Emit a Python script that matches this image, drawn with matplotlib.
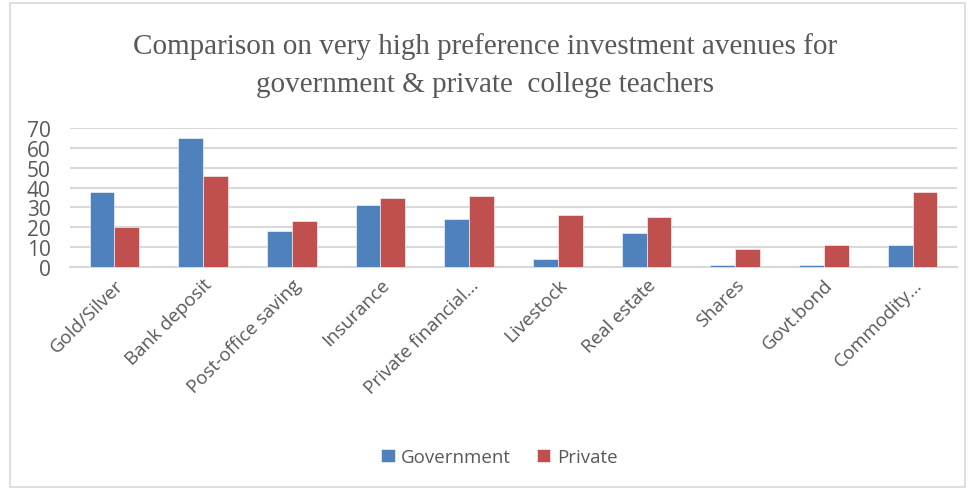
import matplotlib.pyplot as plt
import numpy as np

categories = ["Gold/Silver", "Bank deposit", "Post-office saving", "Insurance",
              "Private financial...", "Livestock", "Real estate", "Shares",
              "Govt.bond", "Commodity..."]
government = [38, 65, 18, 31, 24, 4, 17, 1, 1, 11]
private = [20, 46, 23, 35, 36, 26, 25, 9, 11, 38]

fig = plt.figure(figsize=(9.70, 4.89), dpi=100)
ax = fig.add_axes([70 / 970, 1 - 268 / 489, 887 / 970, 139 / 489])

x = np.arange(len(categories))
w = 0.28
ax.bar(x - w / 2, government, w, color="#4f81bd", edgecolor="#ffffff", linewidth=0.4,
       label="Government", zorder=3)
ax.bar(x + w / 2, private, w, color="#c0504d", edgecolor="#ffffff", linewidth=0.4,
       label="Private", zorder=3)

ax.set_xlim(-0.5, len(categories) - 0.5)
ax.set_ylim(0, 70)
ax.set_yticks(range(0, 71, 10))
ax.grid(axis="y", color="#d9d9d9", linewidth=1.5, zorder=0)
for s in ["top", "right", "left"]:
    ax.spines[s].set_visible(False)
ax.spines["bottom"].set_color("#d9d9d9")
ax.spines["bottom"].set_linewidth(1.5)
ax.tick_params(axis="both", length=0, colors="#595959")
ax.tick_params(axis="y", labelsize=15, pad=14)
ax.tick_params(axis="x", pad=6)
ax.set_xticks(x)
ax.set_xticklabels(categories, rotation=45, ha="right", rotation_mode="anchor",
                   fontsize=13.5, family="Open Sans")
for t in ax.get_yticklabels():
    t.set_family("Open Sans")

fig.text(0.5, 1 - 47 / 489, "Comparison on very high preference investment avenues for",
         ha="center", va="center", fontsize=21, family="Liberation Serif", color="#595959")
fig.text(0.5, 1 - 85 / 489, "government & private  college teachers",
         ha="center", va="center", fontsize=21, family="Liberation Serif", color="#595959")

leg = fig.legend(loc="center", bbox_to_anchor=(0.515, 1 - 458 / 489), ncol=2, frameon=False,
                 handlelength=0.7, handleheight=0.7, columnspacing=1.4, handletextpad=0.35,
                 prop={"family": "Open Sans", "size": 13.5})
for t in leg.get_texts():
    t.set_color("#595959")

border = plt.Rectangle((10 / 970, 0.002), 955 / 970, 0.99, transform=fig.transFigure,
                       fill=False, edgecolor="#d9d9d9", linewidth=1.2)
fig.patches.append(border)

fig.savefig("out.png", dpi=100)
